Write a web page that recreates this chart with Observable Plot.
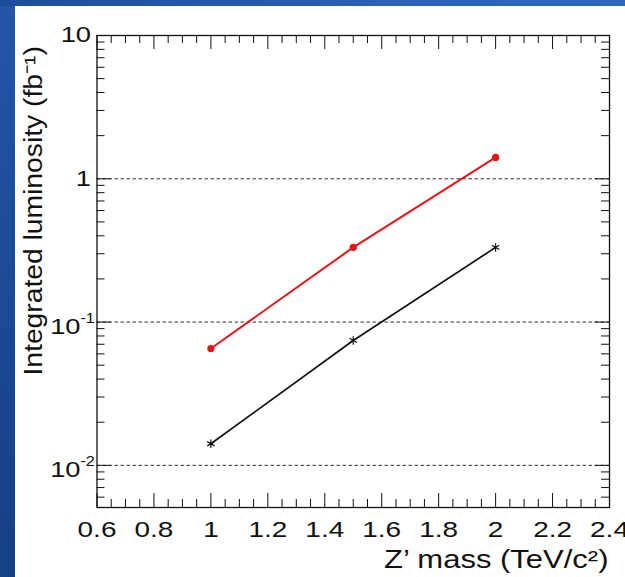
<!DOCTYPE html>
<html>
<head>
<meta charset="utf-8">
<script src="https://cdn.jsdelivr.net/npm/d3@7"></script>
<script src="https://cdn.jsdelivr.net/npm/@observablehq/plot@0.6"></script>
<style>
  html, body { margin: 0; padding: 0; background: white; }
  #wrap { position: relative; width: 625px; height: 577px; overflow: hidden; background: white; }
  #chart { position: absolute; left: 0; top: 0; }
  #leftband { position: absolute; left: 0; top: 0; width: 15px; height: 577px;
    background: linear-gradient(180deg, #2456a8 0%, #1d4c9a 40%, #163f84 100%); z-index: 2; }
  #topband { position: absolute; left: 0; top: 0; width: 625px; height: 6px;
    background: linear-gradient(90deg, #1e4c9c 0%, #2a60b6 60%, #2f67c0 100%); z-index: 3; }
</style>
</head>
<body>
<div id="wrap">
  <div id="chart"></div>
  <div id="leftband"></div>
  <div id="topband"></div>
</div>
<script>
// ---- data ----
const masses = [1, 1.5, 2];
const redLumi = [0.0654, 0.332, 1.41];
const blackLumi = [0.01415, 0.0744, 0.332];

const xTickValues = [0.6, 0.8, 1, 1.2, 1.4, 1.6, 1.8, 2, 2.2, 2.4];
const xTickLabels = ["0.6", "0.8", "1", "1.2", "1.4", "1.6", "1.8", "2", "2.2", "2.4"];
// y tick labels: plain ones, and power-of-ten ones with a superscript exponent
const yPlainValues = [1, 10];
const yPlainLabels = ["1", "10"];
const yPowValues = [0.01, 0.1];
const yPowBase = ["10", "10"];
const yPowExp = ["-2", "-1"];
const yMajorValues = [0.01, 0.1, 1, 10];
const gridValues = [0.01, 0.1, 1];

const xTitle = "Z’ mass (TeV/c²)";
const yTitle = "Integrated luminosity (fb⁻¹)";

const xDomain = [0.6, 2.4];
const yDomain = [0.00508, 10];

// minor tick positions
const xMinor = d3.range(0, 37).map(i => +(0.6 + i * 0.05).toFixed(2)).filter(v => !xTickValues.includes(v));
const yMinor = [];
for (let e = -3; e <= 0; e++) for (let m = 2; m <= 9; m++) {
  const v = +(m * Math.pow(10, e)).toPrecision(3);
  if (v >= yDomain[0] && v <= yDomain[1]) yMinor.push(v);
}

const W = 625, H = 577;
const mL = 96.5, mR = 16, mT = 35, mB = 70;
const pw = W - mL - mR, ph = H - mT - mB;

const red = "#e3141b";
const blk = "#111111";
const font = "'Liberation Sans', Arial, Helvetica, sans-serif";

const redData = masses.map((m, i) => ({m, v: redLumi[i]}));
const blackData = masses.map((m, i) => ({m, v: blackLumi[i]}));

const chart = Plot.plot({
  width: W, height: H,
  marginLeft: mL, marginRight: mR, marginTop: mT, marginBottom: mB,
  style: {fontFamily: font, background: "white", overflow: "visible"},
  x: {domain: xDomain, axis: null},
  y: {type: "log", domain: yDomain, axis: null},
  marks: [
    Plot.ruleY(gridValues, {y: d => d, stroke: "#333", strokeWidth: 1, strokeDasharray: "3.5,2.5"}),
    // x ticks (inward) bottom & top
    Plot.tickX(xMinor, {x: d => d, insetTop: ph - 8, stroke: blk, strokeWidth: 1}),
    Plot.tickX(xMinor, {x: d => d, insetBottom: ph - 8, stroke: blk, strokeWidth: 1}),
    Plot.tickX(xTickValues, {x: d => d, insetTop: ph - 14, stroke: blk, strokeWidth: 1}),
    Plot.tickX(xTickValues, {x: d => d, insetBottom: ph - 14, stroke: blk, strokeWidth: 1}),
    // y ticks (inward) left & right
    Plot.tickY(yMinor, {y: d => d, insetRight: pw - 8, stroke: blk, strokeWidth: 1}),
    Plot.tickY(yMinor, {y: d => d, insetLeft: pw - 8, stroke: blk, strokeWidth: 1}),
    Plot.tickY(yMajorValues, {y: d => d, insetRight: pw - 14, stroke: blk, strokeWidth: 1}),
    Plot.tickY(yMajorValues, {y: d => d, insetLeft: pw - 14, stroke: blk, strokeWidth: 1}),
    Plot.frame({stroke: blk, strokeWidth: 1.3}),
    // series
    Plot.line(redData, {x: "m", y: "v", stroke: red, strokeWidth: 2}),
    Plot.dot(redData, {x: "m", y: "v", fill: red, r: 3.6}),
    Plot.line(blackData, {x: "m", y: "v", stroke: blk, strokeWidth: 1.7}),
    Plot.dot(blackData, {x: "m", y: "v", symbol: "asterisk", stroke: blk, strokeWidth: 1.2, r: 4}),
    // text mark #0: x tick labels
    Plot.text(xTickValues, {x: d => d, text: (d, i) => xTickLabels[i], frameAnchor: "bottom",
      lineAnchor: "bottom", dy: 29, fontSize: 22, fill: blk}),
    // text mark #1: plain y tick labels
    Plot.text(yPlainValues, {y: d => d, text: (d, i) => yPlainLabels[i], frameAnchor: "left",
      textAnchor: "end", lineAnchor: "middle", dx: -6, fontSize: 21.5, fill: blk}),
    // text mark #2: base of power labels
    Plot.text(yPowValues, {y: d => d, text: (d, i) => yPowBase[i], frameAnchor: "left",
      textAnchor: "end", lineAnchor: "middle", dx: -16.5, dy: 5, fontSize: 21.5, fill: blk}),
    // text mark #3: exponent of power labels
    Plot.text(yPowValues, {y: d => d, text: (d, i) => yPowExp[i], frameAnchor: "left",
      textAnchor: "start", lineAnchor: "middle", dx: -16.5, dy: -4, fontSize: 14, fill: blk}),
    // text marks #4, #5: titles
    Plot.text([xTitle], {text: d => d, frameAnchor: "bottom-right", textAnchor: "end",
      lineAnchor: "bottom", dx: -1, dy: 60, fontSize: 25, fill: blk}),
    Plot.text([yTitle], {text: d => d, frameAnchor: "top-left", textAnchor: "start", rotate: -90,
      lineAnchor: "bottom", dx: 41 - mL, dy: 375 - mT, fontSize: 25, fill: blk})
  ]
});

document.getElementById("chart").appendChild(chart);

// stretch glyphs along the reading direction (like the original) without moving the anchor
const textGroups = chart.querySelectorAll('g[aria-label="text"]');
function stretch(idx, s) {
  const g = textGroups[idx];
  if (!g) return;
  g.querySelectorAll("text").forEach(t => {
    const len = t.getComputedTextLength();
    if (len > 0) {
      t.setAttribute("textLength", (len * s).toFixed(2));
      t.setAttribute("lengthAdjust", "spacingAndGlyphs");
    }
  });
}
stretch(0, 1.27);
stretch(1, 1.27);
stretch(2, 1.27);
stretch(3, 1.15);
stretch(4, 1.24);
stretch(5, 1.13);
</script>
</body>
</html>
